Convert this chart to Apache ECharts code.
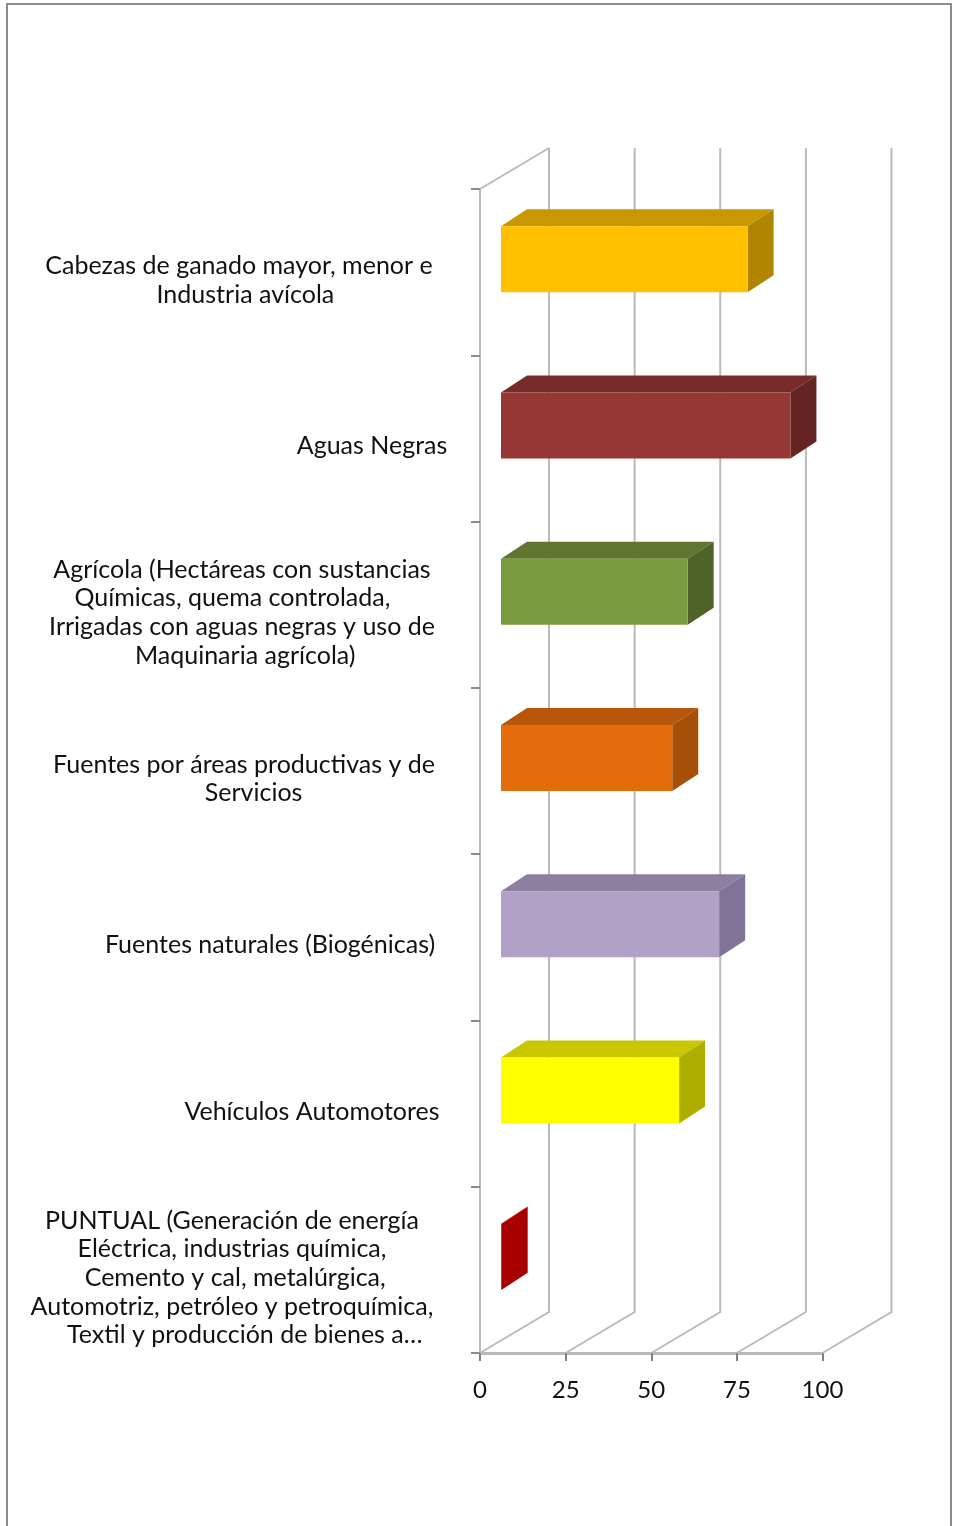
<!DOCTYPE html>
<html>
<head>
<meta charset="utf-8">
<title>Fuentes</title>
<script src="https://cdn.jsdelivr.net/npm/echarts@6/dist/echarts.min.js"></script>
<style>
    html, body { margin: 0; padding: 0; background: #fff; }
    #chart { width: 953px; height: 1526px; }
</style>
</head>
<body>
<div id="chart"></div>
<script>
const categories = [
    'Cabezas de ganado mayor, menor e\n  Industria avícola',
    'Aguas Negras',
    'Agrícola (Hectáreas con sustancias\nQuímicas, quema controlada,   \nIrrigadas con aguas negras y uso de\n Maquinaria agrícola)',
    'Fuentes por áreas productivas y de\n   Servicios',
    'Fuentes naturales (Biogénicas)',
    'Vehículos Automotores',
    'PUNTUAL (Generación de energía\nEléctrica, industrias química,\n Cemento y cal, metalúrgica,\nAutomotriz, petróleo y petroquímica,\n    Textil y producción de bienes a…'
];
const values = [72, 84.5, 54.5, 50, 63.7, 52, 0.2];
const frontColors = ['#FFC000', '#953735', '#7C9A3F', '#E46C0A', '#B2A1C7', '#FFFF00', '#C00000'];
const topColors = ['#C99700', '#772C2A', '#5F7530', '#B85709', '#8C7FA0', '#C8C800', '#C00000'];
const sideColors = ['#B08500', '#632423', '#4F6228', '#A64F08', '#7F7398', '#AEAE00', '#A80000'];
const xTicks = [0, 25, 50, 75, 100];

// centre of each label block, the labels are not lined up in the source
const labelCenters = [239, 372, 242, 244, 270, 312, 232];

// fake 3d offsets
const wallDx = 69, wallDy = -41;
const barDx = 21, barDy = -13;
const depthDx = 26, depthDy = -17;
const barHeight = 66;
const gridColor = '#BABABA';
const labelAnchor = 372;

const chart = echarts.init(document.getElementById('chart'));

function renderWalls(params, api) {
    const cs = params.coordSys;
    const bottom = cs.y + cs.height;
    const children = xTicks.map(t => {
        const x = api.coord([t, 0])[0];
        return {
            type: 'polyline',
            shape: { points: [[x, bottom], [x + wallDx, bottom + wallDy], [x + wallDx, cs.y + wallDy]] },
            style: { fill: null, stroke: gridColor, lineWidth: 2 }
        };
    });
    children.push({
        type: 'line',
        shape: { x1: cs.x, y1: cs.y, x2: cs.x + wallDx, y2: cs.y + wallDy },
        style: { stroke: gridColor, lineWidth: 2 }
    });
    return { type: 'group', children: children };
}

function renderBar(params, api) {
    const i = api.value(1);
    const start = api.coord([0, i]);
    const end = api.coord([api.value(0), i]);
    const x0 = start[0] + barDx;
    const x1 = end[0] + barDx;
    const yTop = start[1] + barDy - barHeight / 2;
    const yBot = yTop + barHeight;
    return {
        type: 'group',
        children: [
            {
                type: 'polygon',
                shape: { points: [[x0, yTop], [x0 + depthDx, yTop + depthDy], [x1 + depthDx, yTop + depthDy], [x1, yTop]] },
                style: { fill: topColors[i] }
            },
            {
                type: 'polygon',
                shape: { points: [[x1, yTop], [x1 + depthDx, yTop + depthDy], [x1 + depthDx, yBot + depthDy], [x1, yBot]] },
                style: { fill: sideColors[i] }
            },
            {
                type: 'rect',
                shape: { x: x0, y: yTop, width: x1 - x0, height: barHeight },
                style: { fill: frontColors[i] }
            }
        ]
    };
}

const option = {
    backgroundColor: '#fff',
    animation: false,
    textStyle: { fontFamily: 'Lato' },
    graphic: [{
        type: 'rect',
        shape: { x: 7, y: 4, width: 944, height: 1530 },
        style: { fill: null, stroke: '#8C8C8C', lineWidth: 2 }
    }],
    grid: [
        { left: 480, top: 189, width: 342.5, height: 1164, outerBoundsMode: 'none' },
        // same axis moved down a bit, the category labels sit lower than their bands
        { left: 480, top: 197, width: 342.5, height: 1164, outerBoundsMode: 'none' }
    ],
    xAxis: [
        {
            type: 'value',
            min: 0,
            max: 100,
            interval: 25,
            splitLine: { show: false },
            axisLine: { show: true, lineStyle: { color: gridColor, width: 3 } },
            axisTick: { show: true, inside: false, length: 8, lineStyle: { color: '#7F7F7F', width: 2 } },
            axisLabel: { color: '#111', fontSize: 24, fontFamily: 'Lato', margin: 25, hideOverlap: false }
        },
        { type: 'value', gridIndex: 1, min: 0, max: 100, show: false }
    ],
    yAxis: [
        {
            type: 'category',
            inverse: true,
            data: categories,
            axisLine: { show: true, lineStyle: { color: gridColor, width: 2 } },
            axisTick: { show: true, length: 9, lineStyle: { color: '#8C8C8C', width: 2 } },
            axisLabel: { show: false }
        },
        {
            type: 'category',
            gridIndex: 1,
            inverse: true,
            data: categories.map((c, i) => ({
                value: c,
                textStyle: { align: 'center', padding: [0, 2 * (labelAnchor - labelCenters[i]), 0, 0] }
            })),
            axisLine: { show: false },
            axisTick: { show: false },
            axisLabel: {
                interval: 0,
                margin: 480 - labelAnchor,
                color: '#111',
                fontSize: 25,
                lineHeight: 28.6,
                fontFamily: 'Lato'
            }
        }
    ],
    series: [
        {
            type: 'custom',
            coordinateSystem: 'cartesian2d',
            renderItem: renderWalls,
            data: [[0, 0]],
            silent: true,
            z: 1
        },
        {
            type: 'custom',
            coordinateSystem: 'cartesian2d',
            renderItem: renderBar,
            encode: { x: 0, y: 1 },
            data: values.map((v, i) => [v, i]),
            z: 3
        }
    ]
};
chart.setOption(option);
</script>
</body>
</html>
